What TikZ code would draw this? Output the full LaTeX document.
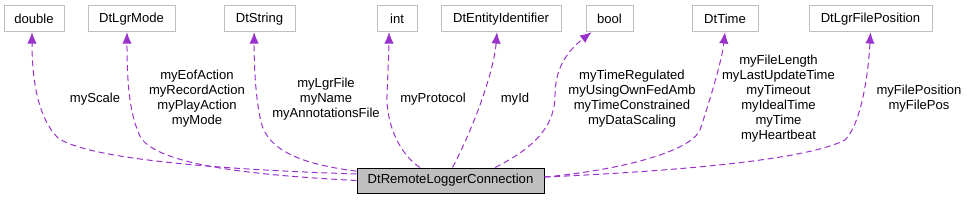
\documentclass[tikz,border=0pt]{standalone}
\usepackage{fontspec}
\setmainfont{Liberation Sans}
\usetikzlibrary{arrows.meta}
\definecolor{member-edge}{HTML}{9A32CD}
\definecolor{box-line}{HTML}{BFBFBF}
\definecolor{box-fill}{HTML}{BFBFBF}

\begin{document}
\begin{tikzpicture}[x=0.75pt, y=-0.75pt,
      every node/.style={font=\fontsize{9.8}{11.25}\selectfont},
      typebox/.style={draw=box-line, fill=white, line width=0.75pt,
              minimum height=19.5pt, inner sep=0pt},
      classbox/.style={draw=black, fill=box-fill, line width=0.75pt,
              minimum height=18.75pt, inner sep=0pt},
      edgelabel/.style={align=center, inner sep=0pt},
      member/.style={draw=member-edge, line width=0.75pt,
              dash pattern=on 4.5pt off 2.8pt,
              -{Latex[length=8.5pt, width=7pt]}}]
    \useasboundingbox (0,0) rectangle (968,200);
    \foreach \nm/\lab/\cx/\bw in {dbl/double/34/60, mode/DtLgrMode/131.5/87,
        str/DtString/259.5/71, int/int/397/40, ent/DtEntityIdentifier/501/120,
        bool/bool/609.5/47, time/DtTime/725/66, pos/DtLgrFilePosition/870.5/123} {
      \node[typebox, minimum width=\bw*0.75pt] (\nm) at (\cx,18.7) {\lab};
    }
    \node[classbox, minimum width=140.25pt] (main) at (450.5,180.5)
      {DtRemoteLoggerConnection};
    \foreach \i/\cx/\lab in {1/95/myScale,
        2/197/{myEofAction\\myRecordAction\\myPlayAction\\myMode},
        3/326/{myLgrFile\\myName\\myAnnotationsFile}, 4/433/myProtocol,
        5/515/myId,
        6/632/{myTimeRegulated\\myUsingOwnFedAmb\\myTimeConstrained\\myDataScaling},
        7/778.5/{myFileLength\\myLastUpdateTime\\myTimeout\\myIdealTime\\myTime\\myHeartbeat},
        8/919/{myFilePosition\\myFilePos}} {
      \node[edgelabel] (lab\i) at (\cx,99) {\lab};
    }
    \draw[member] ([yshift=4.9pt]main.west) .. controls (230,170) and (90,160)
      .. (58,138) .. controls (38,118) and (32,80) .. ([xshift=-1.5pt]dbl.south);
    \draw[member] (main.west) .. controls (250,175) and (160,165)
      .. (141,138) .. controls (129,115) and (127,80) .. ([xshift=-3.4pt]mode.south);
    \draw[member] ([yshift=7pt]main.west) .. controls (300,164) and (268,150)
      .. (261,122) .. controls (256,100) and (254,70) .. ([xshift=-4pt]str.south);
    \draw[member] ([xshift=-23pt]main.north) .. controls (397,152) and (386,120)
      .. (387,95) .. controls (388,70) and (389,50) .. ([xshift=-6pt]int.south);
    \draw[member] ([xshift=-69pt]main.east |- main.north) .. controls (475,125) and (494,70)
      .. ([xshift=-3pt]ent.south);
    \draw[member] ([xshift=-37pt]main.east |- main.north) .. controls (540,145) and (555,122)
      .. (555,95) .. controls (555,70) and (566,52) .. ([xshift=4.5pt]bool.south west);
    \draw[member] ([yshift=2.6pt]main.east) .. controls (620,170) and (690,152)
      .. (700,130) .. controls (710,100) and (722,60) .. (time.south);
    \draw[member] ([yshift=2.6pt]main.east) .. controls (700,170) and (810,158)
      .. (845,140) .. controls (860,125) and (868,80) .. (pos.south);
  \end{tikzpicture}
\end{document}
